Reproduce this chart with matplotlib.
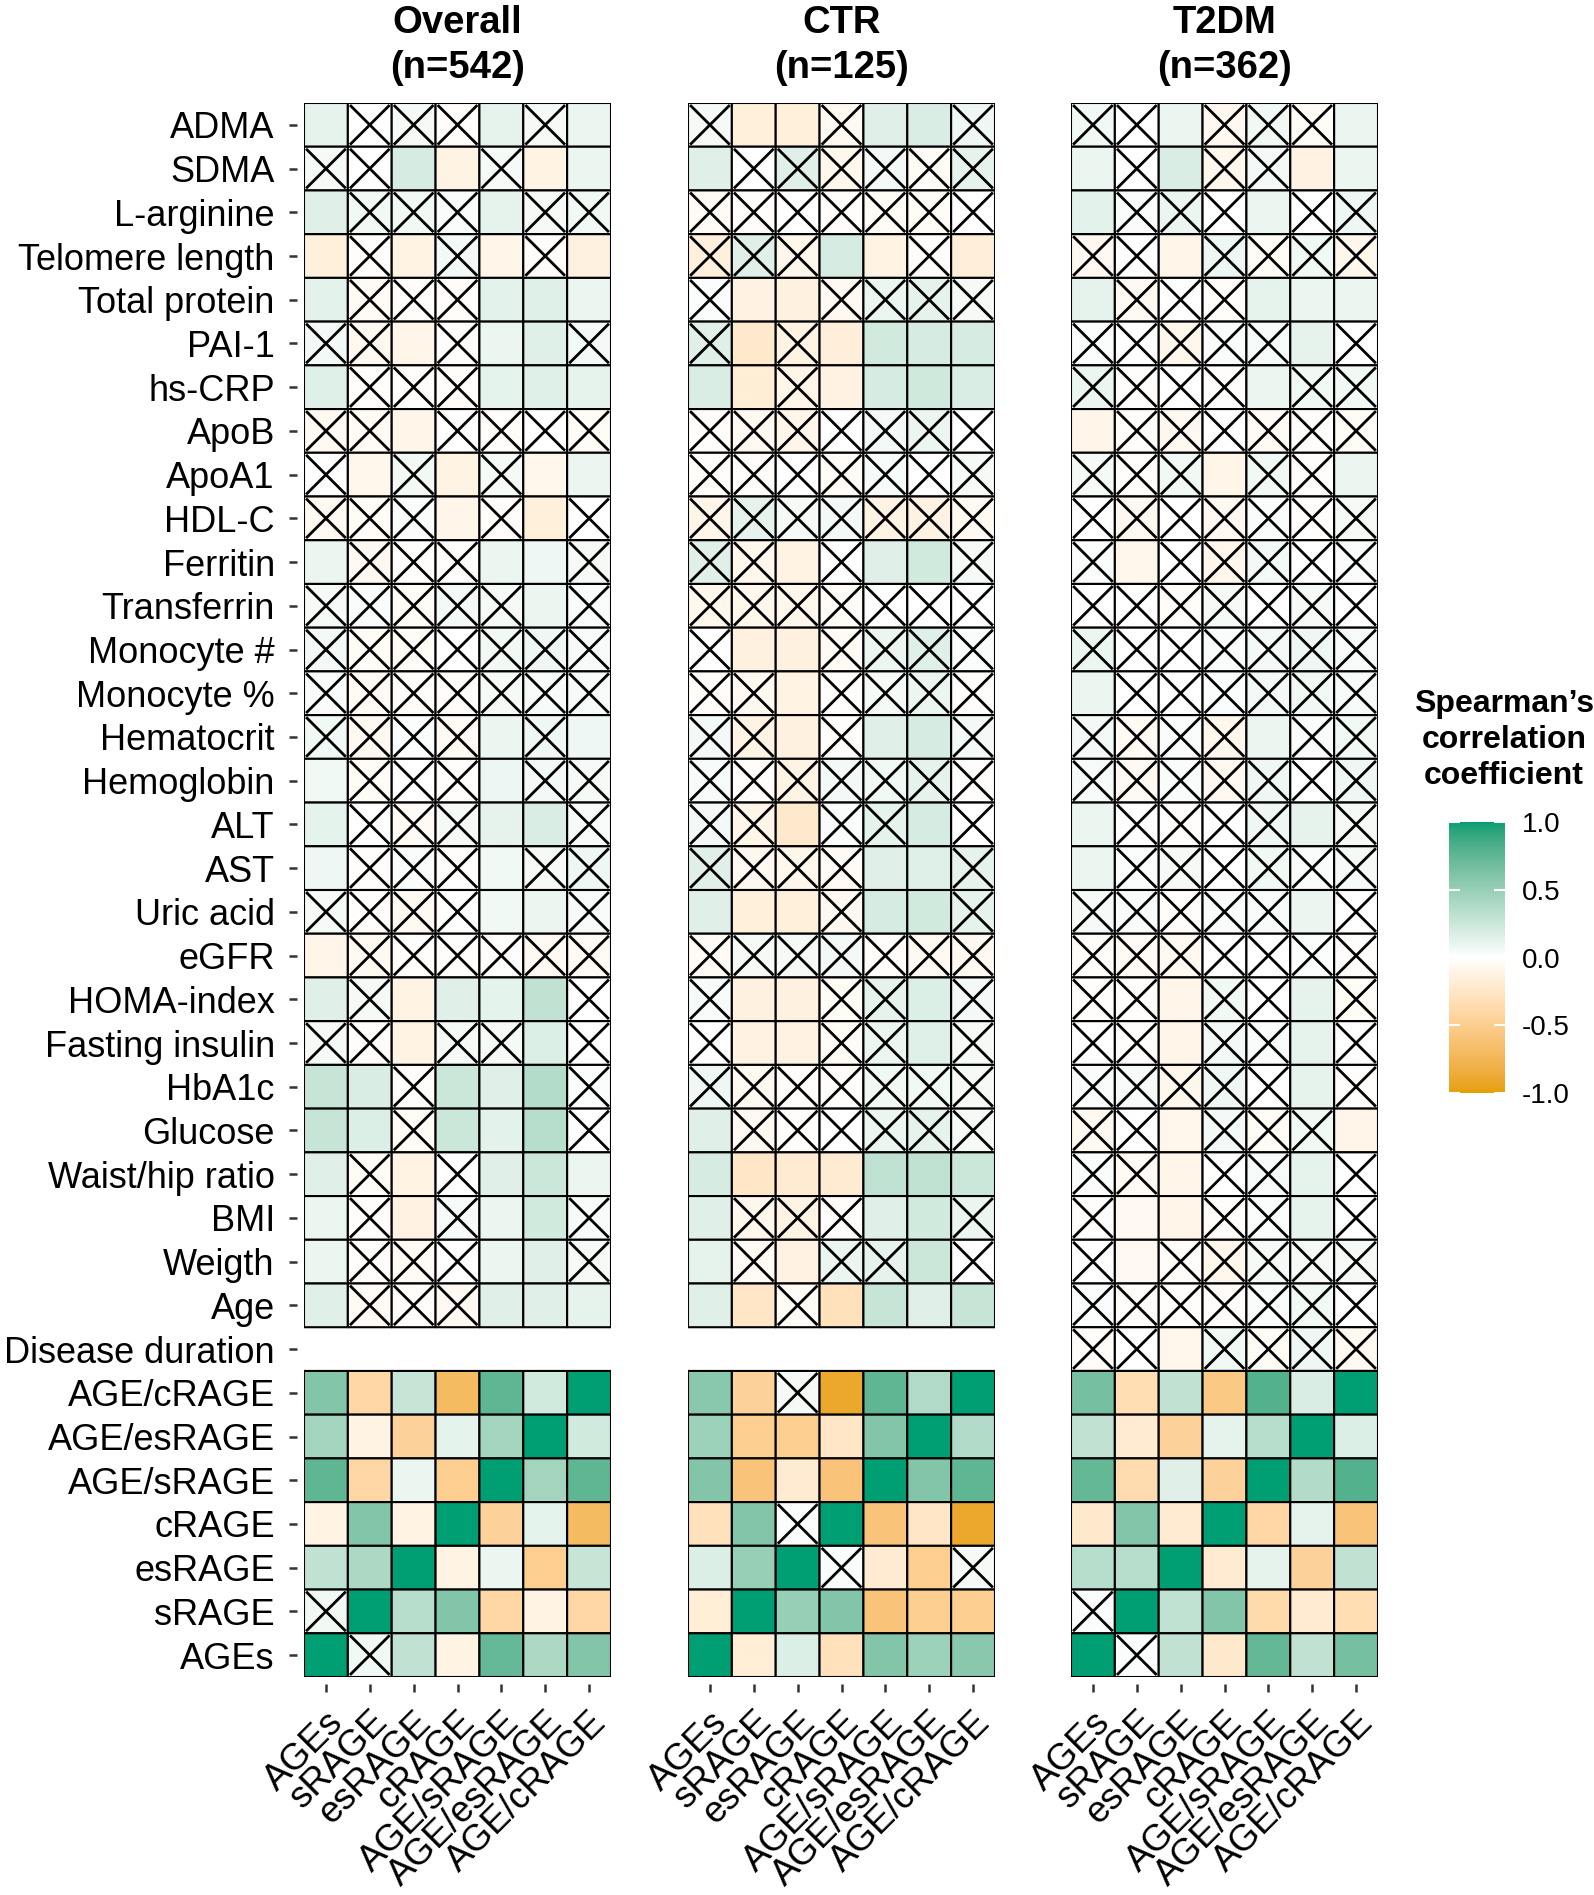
import numpy as np
import matplotlib
matplotlib.use("Agg")
import matplotlib.pyplot as plt
from matplotlib.colors import ListedColormap, Normalize, to_rgb
from matplotlib.cm import ScalarMappable

plt.rcParams['font.family'] = ['Liberation Sans', 'DejaVu Sans']

nan = np.nan

row_labels = ['ADMA', 'SDMA', 'L-arginine', 'Telomere length', 'Total protein', 'PAI-1',
              'hs-CRP', 'ApoB', 'ApoA1', 'HDL-C', 'Ferritin', 'Transferrin', 'Monocyte #',
              'Monocyte %', 'Hematocrit', 'Hemoglobin', 'ALT', 'AST', 'Uric acid', 'eGFR',
              'HOMA-index', 'Fasting insulin', 'HbA1c', 'Glucose', 'Waist/hip ratio', 'BMI',
              'Weigth', 'Age', 'Disease duration', 'AGE/cRAGE', 'AGE/esRAGE', 'AGE/sRAGE',
              'cRAGE', 'esRAGE', 'sRAGE', 'AGEs']
col_labels = ['AGEs', 'sRAGE', 'esRAGE', 'cRAGE', 'AGE/sRAGE', 'AGE/esRAGE', 'AGE/cRAGE']
panel_titles = ['Overall\n(n=542)', 'CTR\n(n=125)', 'T2DM\n(n=362)']

# spearman rho, rows as in row_labels
overall_r = [
    [0.12, 0.00, 0.05, -0.03, 0.12, 0.05, 0.10],
    [0.05, 0.00, 0.20, -0.12, 0.05, -0.12, 0.10],
    [0.15, 0.07, 0.07, 0.03, 0.12, 0.05, 0.07],
    [-0.15, -0.02, -0.12, 0.06, -0.10, -0.03, -0.14],
    [0.14, -0.05, -0.03, -0.03, 0.14, 0.16, 0.10],
    [0.06, -0.07, -0.10, -0.02, 0.10, 0.16, 0.06],
    [0.16, -0.03, -0.02, -0.03, 0.13, 0.16, 0.12],
    [-0.06, -0.05, -0.10, 0.00, -0.03, 0.00, -0.04],
    [0.00, -0.08, 0.07, -0.12, 0.05, -0.08, 0.10],
    [-0.06, -0.04, 0.03, -0.10, -0.03, -0.15, 0.00],
    [0.10, -0.07, -0.02, -0.02, 0.10, 0.08, 0.05],
    [0.05, 0.03, -0.04, 0.06, 0.05, 0.10, 0.03],
    [0.06, -0.04, -0.04, 0.00, 0.07, 0.08, 0.04],
    [0.03, -0.05, -0.03, -0.03, 0.05, 0.04, 0.04],
    [0.07, -0.07, 0.02, -0.05, 0.10, 0.08, 0.08],
    [0.07, -0.04, 0.00, -0.02, 0.09, 0.06, 0.05],
    [0.13, 0.00, -0.05, 0.05, 0.12, 0.18, 0.04],
    [0.08, -0.02, 0.03, -0.02, 0.07, 0.05, 0.08],
    [0.05, -0.03, -0.06, 0.00, 0.07, 0.10, 0.04],
    [-0.10, -0.06, -0.02, -0.02, -0.02, -0.06, -0.05],
    [0.15, 0.05, -0.12, 0.15, 0.13, 0.30, 0.00],
    [0.05, -0.03, -0.12, 0.05, 0.05, 0.17, 0.00],
    [0.27, 0.18, -0.03, 0.25, 0.15, 0.36, 0.02],
    [0.27, 0.17, -0.04, 0.25, 0.14, 0.35, 0.00],
    [0.15, -0.04, -0.12, 0.00, 0.15, 0.25, 0.10],
    [0.10, -0.03, -0.13, 0.04, 0.10, 0.22, 0.04],
    [0.10, -0.03, -0.05, 0.00, 0.10, 0.15, 0.05],
    [0.15, -0.05, -0.03, -0.06, 0.15, 0.15, 0.12],
    [nan, nan, nan, nan, nan, nan, nan],
    [0.60, -0.40, 0.27, -0.70, 0.75, 0.22, 1.00],
    [0.45, -0.12, -0.45, 0.13, 0.45, 1.00, 0.22],
    [0.75, -0.40, 0.10, -0.50, 1.00, 0.45, 0.75],
    [-0.12, 0.60, -0.12, 1.00, -0.45, 0.13, -0.70],
    [0.30, 0.40, 1.00, -0.12, 0.10, -0.50, 0.27],
    [0.07, 1.00, 0.35, 0.60, -0.40, -0.12, -0.40],
    [1.00, 0.07, 0.30, -0.12, 0.72, 0.40, 0.60],
]
# 1 = not significant (crossed cell)
overall_ns = [
    [0, 1, 1, 1, 0, 1, 0],
    [1, 1, 0, 0, 1, 0, 0],
    [0, 1, 1, 1, 0, 1, 1],
    [0, 1, 0, 1, 0, 1, 0],
    [0, 1, 1, 1, 0, 0, 0],
    [1, 1, 0, 1, 0, 0, 1],
    [0, 1, 1, 1, 0, 0, 0],
    [1, 1, 0, 1, 1, 1, 1],
    [1, 0, 1, 0, 1, 0, 0],
    [1, 1, 1, 0, 1, 0, 1],
    [0, 1, 1, 1, 0, 0, 1],
    [1, 1, 1, 1, 1, 0, 1],
    [1, 1, 1, 1, 1, 1, 1],
    [1, 1, 1, 1, 1, 1, 1],
    [1, 1, 1, 1, 0, 1, 0],
    [0, 1, 1, 1, 0, 1, 1],
    [0, 1, 1, 1, 0, 0, 1],
    [0, 1, 1, 1, 0, 1, 1],
    [1, 1, 1, 1, 0, 0, 1],
    [0, 1, 1, 1, 1, 1, 1],
    [0, 1, 0, 0, 0, 0, 1],
    [1, 1, 0, 1, 1, 0, 1],
    [0, 0, 1, 0, 0, 0, 1],
    [0, 0, 1, 0, 0, 0, 1],
    [0, 1, 0, 1, 0, 0, 0],
    [0, 1, 0, 1, 0, 0, 1],
    [0, 1, 1, 1, 0, 0, 1],
    [0, 1, 1, 1, 0, 0, 0],
    [0, 0, 0, 0, 0, 0, 0],
    [0, 0, 0, 0, 0, 0, 0],
    [0, 0, 0, 0, 0, 0, 0],
    [0, 0, 0, 0, 0, 0, 0],
    [0, 0, 0, 0, 0, 0, 0],
    [0, 0, 0, 0, 0, 0, 0],
    [1, 0, 0, 0, 0, 0, 0],
    [0, 1, 0, 0, 0, 0, 0],
]

ctr_r = [
    [0.05, -0.15, -0.15, -0.06, 0.15, 0.18, 0.08],
    [0.15, 0.00, 0.15, -0.08, 0.06, -0.04, 0.12],
    [-0.05, -0.03, 0.00, -0.03, -0.04, -0.04, 0.00],
    [-0.15, 0.15, -0.08, 0.20, -0.12, -0.03, -0.17],
    [0.02, -0.13, -0.14, -0.06, 0.10, 0.12, 0.05],
    [0.15, -0.22, -0.12, -0.17, 0.22, 0.20, 0.20],
    [0.18, -0.18, -0.10, -0.13, 0.20, 0.23, 0.18],
    [-0.03, -0.07, -0.10, 0.00, 0.06, 0.10, 0.00],
    [-0.03, -0.03, 0.00, -0.04, 0.04, 0.00, 0.05],
    [-0.10, 0.12, 0.05, 0.06, -0.12, -0.13, -0.06],
    [0.15, -0.08, -0.12, 0.00, 0.15, 0.22, 0.05],
    [-0.08, -0.08, -0.08, -0.04, 0.00, 0.00, 0.00],
    [0.00, -0.14, -0.14, -0.05, 0.10, 0.16, 0.03],
    [-0.03, -0.07, -0.12, -0.02, 0.05, 0.10, -0.02],
    [0.06, -0.12, -0.14, -0.02, 0.15, 0.20, 0.06],
    [0.04, -0.03, -0.12, 0.06, 0.07, 0.12, -0.02],
    [0.06, -0.10, -0.22, 0.03, 0.13, 0.20, 0.00],
    [0.15, -0.07, -0.08, -0.05, 0.15, 0.16, 0.12],
    [0.15, -0.15, -0.15, -0.07, 0.20, 0.22, 0.12],
    [-0.05, 0.05, 0.05, 0.06, -0.03, -0.06, -0.07],
    [0.04, -0.14, -0.14, -0.04, 0.12, 0.17, 0.06],
    [0.00, -0.13, -0.13, -0.04, 0.10, 0.16, 0.05],
    [0.08, -0.06, -0.03, -0.03, 0.07, 0.07, 0.05],
    [0.15, -0.07, -0.02, 0.00, 0.10, 0.12, 0.05],
    [0.20, -0.25, -0.20, -0.20, 0.32, 0.32, 0.25],
    [0.15, -0.08, -0.12, -0.03, 0.15, 0.22, 0.10],
    [0.12, -0.05, -0.13, 0.10, 0.12, 0.25, 0.00],
    [0.15, -0.25, -0.04, -0.30, 0.27, 0.15, 0.27],
    [nan, nan, nan, nan, nan, nan, nan],
    [0.57, -0.45, 0.05, -0.90, 0.75, 0.38, 1.00],
    [0.47, -0.50, -0.50, -0.25, 0.60, 1.00, 0.38],
    [0.60, -0.60, -0.20, -0.60, 1.00, 0.60, 0.75],
    [-0.30, 0.60, 0.02, 1.00, -0.60, -0.25, -0.90],
    [0.17, 0.50, 1.00, 0.03, -0.20, -0.50, 0.05],
    [-0.18, 1.00, 0.50, 0.60, -0.60, -0.50, -0.50],
    [1.00, -0.18, 0.17, -0.30, 0.60, 0.47, 0.57],
]
ctr_ns = [
    [1, 0, 0, 1, 0, 0, 1],
    [0, 1, 1, 1, 1, 1, 1],
    [1, 1, 1, 1, 1, 1, 1],
    [1, 1, 1, 0, 0, 1, 0],
    [1, 0, 0, 1, 1, 1, 1],
    [1, 0, 1, 0, 0, 0, 0],
    [0, 0, 1, 0, 0, 0, 0],
    [1, 1, 1, 1, 1, 1, 1],
    [1, 1, 1, 1, 1, 1, 1],
    [1, 1, 1, 1, 1, 1, 1],
    [1, 1, 0, 1, 0, 0, 1],
    [1, 1, 1, 1, 1, 1, 1],
    [1, 0, 0, 1, 1, 1, 1],
    [1, 1, 0, 1, 1, 1, 1],
    [1, 1, 0, 1, 0, 0, 1],
    [1, 1, 1, 1, 1, 1, 1],
    [1, 1, 0, 1, 1, 0, 1],
    [1, 1, 1, 1, 0, 0, 1],
    [0, 0, 0, 1, 0, 0, 1],
    [1, 1, 1, 1, 1, 1, 1],
    [1, 0, 0, 1, 1, 0, 1],
    [1, 0, 0, 1, 1, 0, 1],
    [1, 1, 1, 1, 1, 1, 1],
    [0, 1, 1, 1, 1, 1, 1],
    [0, 0, 0, 0, 0, 0, 0],
    [0, 1, 1, 1, 0, 0, 1],
    [0, 1, 0, 1, 1, 0, 1],
    [0, 0, 1, 0, 0, 0, 0],
    [0, 0, 0, 0, 0, 0, 0],
    [0, 0, 1, 0, 0, 0, 0],
    [0, 0, 0, 0, 0, 0, 0],
    [0, 0, 0, 0, 0, 0, 0],
    [0, 0, 1, 0, 0, 0, 0],
    [0, 0, 0, 1, 0, 0, 1],
    [0, 0, 0, 0, 0, 0, 0],
    [0, 0, 0, 0, 0, 0, 0],
]

t2dm_r = [
    [0.07, 0.00, 0.10, -0.07, 0.07, -0.04, 0.10],
    [0.10, 0.00, 0.18, -0.08, 0.06, -0.13, 0.10],
    [0.14, 0.03, 0.10, 0.00, 0.10, 0.00, 0.08],
    [-0.07, 0.00, -0.10, 0.08, -0.04, 0.07, -0.08],
    [0.12, -0.06, 0.00, -0.03, 0.12, 0.10, 0.10],
    [0.02, 0.00, -0.08, 0.03, 0.04, 0.12, 0.00],
    [0.10, -0.03, 0.00, -0.02, 0.10, 0.07, 0.07],
    [-0.10, -0.03, -0.07, 0.00, -0.05, -0.02, -0.04],
    [0.05, -0.03, 0.07, -0.10, 0.07, -0.03, 0.10],
    [0.00, -0.07, 0.00, -0.07, 0.03, -0.02, 0.05],
    [0.02, -0.08, 0.00, -0.08, 0.06, 0.00, 0.03],
    [0.00, 0.00, -0.03, 0.05, 0.00, 0.05, 0.00],
    [0.10, 0.00, 0.00, 0.03, 0.06, 0.08, 0.04],
    [0.10, 0.00, 0.00, 0.02, 0.06, 0.07, 0.04],
    [0.06, -0.05, 0.03, -0.08, 0.10, 0.03, 0.07],
    [0.04, -0.06, 0.03, -0.07, 0.08, 0.00, 0.08],
    [0.10, 0.00, -0.02, 0.00, 0.08, 0.12, 0.05],
    [0.10, 0.02, 0.05, 0.00, 0.07, 0.03, 0.05],
    [0.05, 0.03, -0.03, 0.03, 0.04, 0.10, 0.00],
    [-0.03, -0.05, -0.06, 0.00, 0.00, 0.02, -0.02],
    [-0.02, -0.02, -0.10, 0.07, 0.00, 0.12, -0.04],
    [0.00, -0.02, -0.10, 0.06, 0.03, 0.12, 0.00],
    [0.03, 0.04, -0.08, 0.08, 0.00, 0.12, -0.02],
    [-0.06, 0.00, -0.08, 0.06, -0.04, 0.07, -0.10],
    [0.03, -0.05, -0.10, 0.00, 0.04, 0.12, 0.00],
    [-0.02, -0.06, -0.10, -0.03, 0.02, 0.12, 0.00],
    [0.00, -0.07, -0.03, -0.08, 0.05, 0.05, 0.05],
    [0.02, -0.03, -0.02, -0.03, 0.03, 0.07, 0.00],
    [-0.03, 0.00, -0.08, 0.07, -0.04, 0.08, -0.06],
    [0.65, -0.33, 0.30, -0.55, 0.80, 0.18, 1.00],
    [0.30, -0.20, -0.45, 0.12, 0.35, 1.00, 0.17],
    [0.73, -0.35, 0.15, -0.45, 1.00, 0.37, 0.80],
    [-0.22, 0.60, -0.20, 1.00, -0.40, 0.12, -0.60],
    [0.35, 0.35, 1.00, -0.20, 0.12, -0.45, 0.30],
    [0.02, 1.00, 0.32, 0.60, -0.37, -0.20, -0.33],
    [1.00, 0.02, 0.30, -0.22, 0.73, 0.30, 0.65],
]
t2dm_ns = [
    [1, 1, 0, 1, 1, 1, 0],
    [0, 1, 0, 1, 1, 0, 0],
    [0, 1, 1, 1, 0, 1, 1],
    [1, 1, 0, 1, 1, 1, 1],
    [0, 1, 1, 1, 0, 0, 0],
    [1, 1, 1, 1, 1, 0, 1],
    [1, 1, 1, 1, 0, 1, 1],
    [0, 1, 1, 1, 1, 1, 1],
    [1, 1, 1, 0, 1, 1, 0],
    [1, 1, 1, 1, 1, 1, 1],
    [1, 0, 1, 1, 1, 1, 1],
    [1, 1, 1, 1, 1, 1, 1],
    [1, 1, 1, 1, 1, 1, 1],
    [0, 1, 1, 1, 1, 1, 1],
    [1, 1, 1, 1, 0, 1, 1],
    [1, 1, 1, 1, 1, 1, 1],
    [0, 1, 1, 1, 1, 0, 1],
    [0, 1, 1, 1, 1, 1, 1],
    [1, 1, 1, 1, 1, 0, 1],
    [1, 1, 1, 1, 1, 1, 1],
    [1, 1, 0, 1, 1, 0, 1],
    [1, 1, 0, 1, 1, 0, 1],
    [1, 1, 1, 1, 1, 0, 1],
    [1, 1, 0, 1, 1, 1, 0],
    [1, 1, 0, 1, 1, 0, 1],
    [1, 0, 0, 1, 1, 0, 1],
    [1, 0, 1, 1, 1, 1, 1],
    [1, 1, 1, 1, 1, 1, 1],
    [1, 1, 0, 1, 1, 1, 1],
    [0, 0, 0, 0, 0, 0, 0],
    [0, 0, 0, 0, 0, 0, 0],
    [0, 0, 0, 0, 0, 0, 0],
    [0, 0, 0, 0, 0, 0, 0],
    [0, 0, 0, 0, 0, 0, 0],
    [1, 0, 0, 0, 0, 0, 0],
    [0, 1, 0, 0, 0, 0, 0],
]


# diverging palette interpolated in CIELAB (like ggplot's gradient2)
def rgb2lab(rgb):
    c = np.asarray(rgb, float)
    c = np.where(c > 0.04045, ((c + 0.055) / 1.055) ** 2.4, c / 12.92)
    m = np.array([[0.4124, 0.3576, 0.1805], [0.2126, 0.7152, 0.0722], [0.0193, 0.1192, 0.9505]])
    xyz = m @ c / np.array([0.95047, 1.0, 1.08883])
    f = np.where(xyz > 0.008856, np.cbrt(xyz), 7.787 * xyz + 16 / 116)
    return np.array([116 * f[1] - 16, 500 * (f[0] - f[1]), 200 * (f[1] - f[2])])


def lab2rgb(lab):
    L, a, b = lab
    fy = (L + 16) / 116
    f = np.array([fy + a / 500, fy, fy - b / 200])
    xyz = np.where(f ** 3 > 0.008856, f ** 3, (f - 16 / 116) / 7.787) * np.array([0.95047, 1.0, 1.08883])
    mi = np.array([[3.2406, -1.5372, -0.4986], [-0.9689, 1.8758, 0.0415], [0.0557, -0.2040, 1.0570]])
    c = mi @ xyz
    c = np.where(c > 0.0031308, 1.055 * np.abs(c) ** (1 / 2.4) - 0.055, 12.92 * c)
    return np.clip(c, 0, 1)


lo, mid, hi = [rgb2lab(to_rgb(c)) for c in ('#E69F00', '#FFFFFF', '#009E73')]
colors = []
for t in np.linspace(-1, 1, 256):
    if t < 0:
        colors.append(lab2rgb(mid + (lo - mid) * (-t)))
    else:
        colors.append(lab2rgb(mid + (hi - mid) * t))
cmap = ListedColormap(colors)

W, H = 1594, 1895
fig = plt.figure(figsize=(W / 100, H / 100), dpi=100)

panels = [(overall_r, overall_ns), (ctr_r, ctr_ns), (t2dm_r, t2dm_ns)]
lefts = [304, 688, 1071]
pw, top, bot = 307, 103, 1677
d = 0.07  # inset of the crosses

for k, (vals, ns) in enumerate(panels):
    ax = fig.add_axes([lefts[k] / W, 1 - bot / H, pw / W, (bot - top) / H])
    r = np.ma.masked_invalid(np.array(vals, dtype=float))
    ax.pcolor(np.arange(8), np.arange(37), r, cmap=cmap, vmin=-1, vmax=1,
              edgecolors='black', linewidth=1.5)
    ns = np.array(ns)
    for i, j in zip(*np.nonzero(ns)):
        ax.plot([j + d, j + 1 - d], [i + d, i + 1 - d], color='black', lw=2.0)
        ax.plot([j + d, j + 1 - d], [i + 1 - d, i + d], color='black', lw=2.0)
    ax.set_xlim(0, 7)
    ax.set_ylim(36, 0)
    for s in ax.spines.values():
        s.set_visible(False)
    ax.spines['left'].set_position(('outward', 5))
    ax.spines['bottom'].set_position(('outward', 5))

    ax.set_xticks(np.arange(7) + 0.5)
    ax.set_xticklabels(col_labels, rotation=45, ha='right', va='top',
                       rotation_mode='anchor', fontsize=26.5)
    ax.tick_params(axis='x', length=6, width=1.8, color='#333333', pad=9)
    if k == 0:
        ax.set_yticks(np.arange(36) + 0.5)
        ax.set_yticklabels(row_labels, fontsize=26)
        ax.tick_params(axis='y', length=6, width=1.8, color='#333333', pad=10)
    else:
        ax.set_yticks([])

    fig.text((lefts[k] + pw / 2) / W, 0.976, panel_titles[k], ha='center', va='center',
             fontsize=27.5, fontweight='bold', linespacing=1.3)

# colour bar legend
cax = fig.add_axes([1449 / W, 1 - 1093 / H, 56 / W, 271 / H])
sm = ScalarMappable(norm=Normalize(-1, 1), cmap=cmap)
cb = fig.colorbar(sm, cax=cax, ticks=[-1, -0.5, 0, 0.5, 1])
cb.outline.set_visible(False)
cb.ax.set_yticklabels(['-1.0', '-0.5', '0.0', '0.5', '1.0'], fontsize=20)
cb.ax.tick_params(direction='in', color='white', length=8, width=1.5,
                  left=True, right=True, pad=12)
fig.text(1504 / W, 1 - 740 / H, 'Spearman\u2019s\ncorrelation\ncoefficient', ha='center',
         va='center', fontsize=23, fontweight='bold', linespacing=1.25)

fig.savefig('out.png', dpi=100)
